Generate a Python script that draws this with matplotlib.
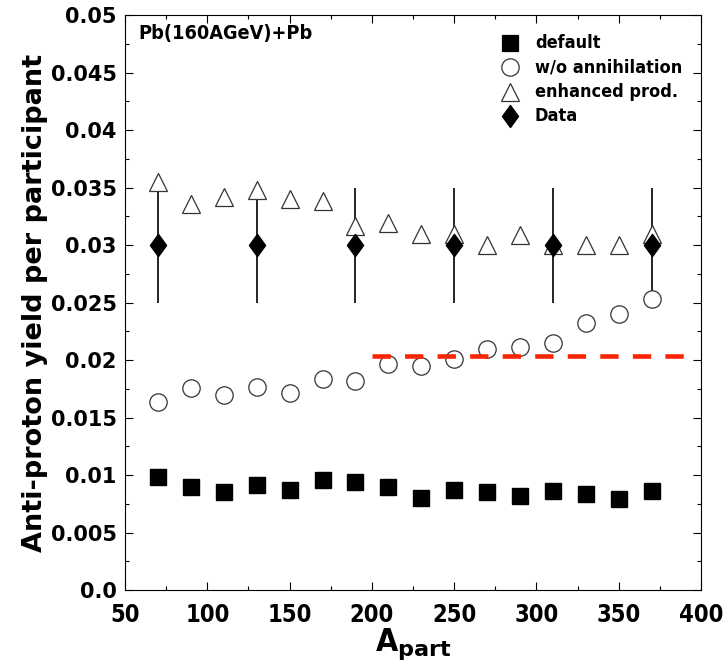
import matplotlib
matplotlib.use("Agg")
import matplotlib.pyplot as plt
from matplotlib.ticker import MultipleLocator
from matplotlib.font_manager import FontProperties
from matplotlib.path import Path

# values
a_part = [70, 90, 110, 130, 150, 170, 190, 210, 230, 250, 270, 290, 310, 330, 350, 370]
default = [0.0098, 0.0090, 0.0085, 0.0091, 0.0087, 0.0096, 0.0094, 0.0090,
           0.0080, 0.0087, 0.0085, 0.0082, 0.0086, 0.0084, 0.0079, 0.0086]
no_annih = [0.0164, 0.0176, 0.0170, 0.0177, 0.0171, 0.0184, 0.0182, 0.0197,
            0.0195, 0.0201, 0.0210, 0.0211, 0.0215, 0.0232, 0.0240, 0.0253]
enhanced = [0.0355, 0.0336, 0.0342, 0.0348, 0.0340, 0.0338, 0.0317, 0.0319,
            0.0310, 0.0310, 0.0300, 0.0309, 0.0300, 0.0300, 0.0300, 0.0310]
data_x = [70, 130, 190, 250, 310, 370]
data_y = [0.030, 0.030, 0.030, 0.030, 0.030, 0.030]
data_err = [0.005, 0.005, 0.005, 0.005, 0.005, 0.005]
ref_x = [200, 390]
ref_y = [0.0204, 0.0204]
labels = ['default', 'w/o annihilation', 'enhanced prod.', 'Data']


def cond(size):
    return FontProperties(family='DejaVu Sans', weight='bold', stretch='condensed', size=size)


diamond = Path([(0, 1), (0.73, 0), (0, -1), (-0.73, 0), (0, 1)],
               [Path.MOVETO, Path.LINETO, Path.LINETO, Path.LINETO, Path.CLOSEPOLY])

fig = plt.figure(figsize=(7.24, 6.63), dpi=100)
ax = fig.add_axes([0.1727, 0.110, 0.7956, 0.867])

ax.errorbar(data_x, data_y, yerr=data_err, fmt='none', ecolor='black', elinewidth=1.2, capsize=0, zorder=2)
ax.plot(a_part, default, 's', color='black', markersize=12, zorder=3)
ax.plot(a_part, no_annih, 'o', markerfacecolor='white', markeredgecolor='#333333',
        markersize=12.5, markeredgewidth=0.9, zorder=3)
ax.plot(a_part, enhanced, '^', markerfacecolor='white', markeredgecolor='#333333',
        markersize=12.5, markeredgewidth=0.9, zorder=3)
ax.plot(data_x, data_y, marker=diamond, linestyle='none', color='black', markersize=16, zorder=4)
ax.plot(ref_x, ref_y, color='#ff2200', linewidth=3.3, dashes=(4, 3.1), zorder=5)

ax.set_xlim(50, 400)
ax.set_ylim(0, 0.05)
ax.xaxis.set_minor_locator(MultipleLocator(25))
ax.yaxis.set_minor_locator(MultipleLocator(0.0025))
ax.tick_params(which='both', direction='in', top=True, right=True, width=0.8)
ax.tick_params(which='major', length=6)
ax.tick_params(which='minor', length=3)

ylabels = ['0.0', '0.005', '0.01', '0.015', '0.02', '0.025', '0.03', '0.035', '0.04', '0.045', '0.05']
ax.set_yticks([i * 0.005 for i in range(11)])
ax.set_yticklabels(ylabels, fontsize=15, fontweight='bold')
ax.set_xticks(range(50, 401, 50))
ax.set_xticklabels([str(v) for v in range(50, 401, 50)], fontproperties=cond(17))
ax.tick_params(axis='x', pad=9)
ax.tick_params(axis='y', pad=6)

ax.set_ylabel('Anti-proton yield per participant', fontsize=19.5, fontweight='bold', labelpad=2)
ax.set_xlabel(r'A$_{\mathbf{part}}$', fontproperties=cond(23), labelpad=0)

ax.text(0.023, 0.969, 'Pb(160AGeV)+Pb', transform=ax.transAxes, fontproperties=cond(14.2),
        va='center', ha='left')

# hand-made legend placed like the reference
styles = [dict(marker='s', markerfacecolor='black', markeredgecolor='black', markersize=12),
          dict(marker='o', markerfacecolor='white', markeredgecolor='#333333', markersize=12.5),
          dict(marker='^', markerfacecolor='white', markeredgecolor='#333333', markersize=12.5),
          dict(marker=diamond, markerfacecolor='black', markeredgecolor='black', markersize=16)]
for i, (st, lab) in enumerate(zip(styles, labels)):
    y = 0.0476 - i * 0.00213
    ax.plot(284, y, linestyle='none', markeredgewidth=0.9, clip_on=False, **st)
    ax.text(299, y, lab, fontproperties=cond(13), va='center', ha='left')

fig.savefig('out.png', dpi=100)
